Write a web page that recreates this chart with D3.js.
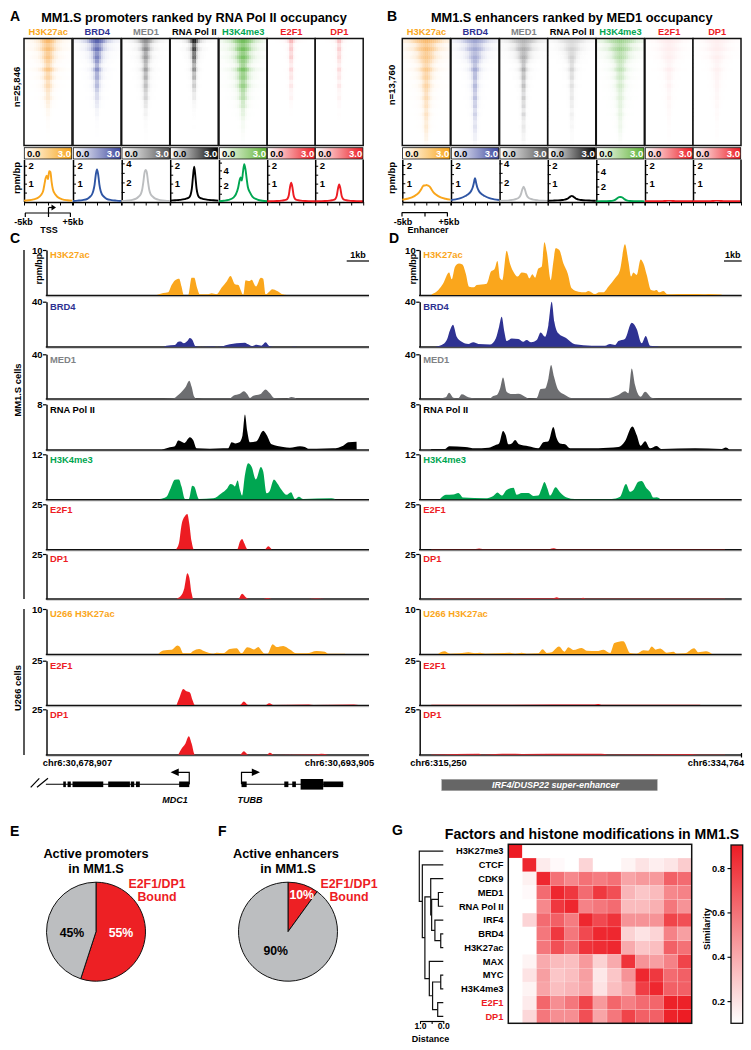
<!DOCTYPE html>
<html><head><meta charset="utf-8">
<script src="https://cdn.jsdelivr.net/npm/d3@7/dist/d3.min.js"></script>
<style>html,body{margin:0;padding:0;background:#fff}svg{display:block}text{font-family:"Liberation Sans",Arial,sans-serif;font-weight:bold}</style>
</head><body><svg id="c" width="751" height="1050"></svg>
<script>
// ---------- factor names and colours
const factors=["H3K27ac","BRD4","MED1","RNA Pol II","H3K4me3","E2F1","DP1"];
const labelColors=["#faa61a","#2e3192","#808285","#000000","#00a651","#ed1c24","#ed1c24"];
const heatColors=["#f7941d","#3a46a0","#4d4d4f","#000000","#4fae32","#ed1c24","#ed1c24"];
const barColors=["#f9a51a","#3f4aa0","#555555","#000000","#5fb336","#ed1c24","#ed1c24"];
const lineColors=["#f9a51a","#2f55a4","#bcbec0","#000000","#00a651","#ed1c24","#ed1c24"];
// ---------- heatmap row summaries (26 rank bins, top to bottom)
const aPeakH3K27ac=[.62,.6,.55,.55,.52,.5,.48,.5,.42,.42,.38,.35,.3,.28,.22,.2,.14,.1,.07,.05,.04,.03,.02,.01,.01,0];
const aWidthH3K27ac=[.62,.7,.55,.5,.45,.42,.4,.42,.36,.38,.32,.3,.3,.26,.26,.22,.2,.18,.15,.12,.12,.1,.1,.08,.08,.05];
const aPeakBRD4=[.8,.75,.72,.7,.68,.68,.62,.6,.55,.5,.48,.42,.36,.3,.22,.2,.14,.1,.07,.05,.04,.03,.02,.02,.01,0];
const aWidthBRD4=[.7,.6,.45,.4,.32,.3,.28,.26,.26,.24,.22,.2,.2,.18,.18,.16,.15,.14,.12,.1,.1,.08,.08,.08,.06,.05];
const aPeakMED1=[.6,.62,.62,.6,.58,.55,.58,.55,.5,.52,.45,.42,.38,.36,.3,.25,.2,.15,.12,.08,.06,.05,.04,.03,.03,.02];
const aWidthMED1=[.55,.42,.34,.3,.28,.26,.24,.22,.22,.2,.2,.18,.18,.16,.15,.14,.12,.12,.1,.1,.1,.08,.08,.08,.06,.06];
const aPeakPol=[.9,.85,.8,.78,.72,.68,.65,.55,.5,.45,.4,.34,.28,.22,.15,.1,.06,.05,.03,.02,.01,.01,.01,0,0,0];
const aWidthPol=[.3,.22,.2,.18,.15,.14,.14,.13,.12,.12,.11,.1,.1,.1,.09,.09,.08,.08,.07,.07,.06,.06,.05,.05,.05,.05];
const aPeakK4=[.75,.75,.72,.7,.72,.68,.68,.7,.66,.62,.6,.58,.52,.48,.4,.34,.28,.22,.16,.12,.09,.07,.05,.04,.03,.02];
const aWidthK4=[.85,.8,.62,.6,.55,.52,.48,.48,.46,.42,.42,.38,.34,.32,.3,.26,.26,.22,.2,.2,.16,.16,.14,.12,.1,.08];
const aPeakE2F1=[.35,.33,.3,.32,.3,.28,.28,.26,.24,.24,.22,.2,.18,.16,.12,.08,.05,.03,.02,.01,.01,0,0,0,0,0];
const aWidthE2F1=[.22,.14,.12,.12,.12,.1,.1,.1,.1,.09,.09,.09,.08,.08,.08,.07,.07,.06,.06,.05,.05,.05,.05,.05,.05,.05];
const aPeakDP1=[.3,.28,.28,.28,.26,.26,.25,.25,.22,.22,.2,.2,.17,.15,.12,.1,.07,.05,.03,.02,.02,.01,.01,0,0,0];
const aWidthDP1=[.2,.14,.12,.12,.11,.1,.1,.1,.1,.09,.09,.09,.08,.08,.08,.07,.07,.06,.06,.05,.05,.05,.05,.05,.05,.05];
const bPeakH3K27ac=[.6,.58,.55,.55,.5,.5,.48,.48,.45,.45,.42,.42,.4,.38,.36,.34,.32,.3,.3,.28,.26,.25,.22,.2,.15,.08];
const bWidthH3K27ac=[1.2,1,.85,.75,.7,.62,.55,.5,.46,.42,.38,.35,.33,.3,.28,.27,.25,.24,.22,.2,.2,.18,.16,.14,.12,.1];
const bPeakBRD4=[.45,.42,.42,.42,.42,.45,.45,.45,.45,.42,.42,.42,.42,.4,.4,.38,.36,.34,.32,.3,.28,.26,.24,.2,.15,.08];
const bWidthBRD4=[1,.85,.7,.6,.5,.42,.35,.3,.26,.22,.2,.2,.18,.18,.16,.16,.14,.14,.13,.12,.12,.11,.1,.1,.09,.08];
const bPeakMED1=[.4,.42,.42,.45,.45,.45,.48,.48,.45,.45,.45,.45,.42,.42,.42,.42,.4,.38,.36,.35,.34,.32,.3,.26,.2,.1];
const bWidthMED1=[1,.8,.62,.5,.4,.32,.26,.22,.2,.18,.16,.14,.13,.12,.11,.11,.1,.1,.1,.09,.09,.08,.08,.08,.07,.06];
const bPeakPol=[.15,.16,.16,.17,.18,.18,.18,.18,.16,.16,.14,.14,.13,.13,.12,.12,.1,.1,.09,.08,.07,.06,.05,.05,.03,.02];
const bWidthPol=[1,.8,.6,.5,.35,.3,.25,.22,.2,.18,.16,.16,.14,.14,.12,.12,.12,.1,.1,.1,.1,.1,.08,.08,.08,.08];
const bPeakK4=[.5,.5,.48,.45,.42,.38,.38,.35,.3,.3,.26,.26,.24,.22,.2,.2,.18,.18,.16,.15,.14,.12,.1,.08,.05,.03];
const bWidthK4=[1.2,1,.85,.75,.65,.55,.5,.45,.42,.42,.38,.36,.34,.32,.3,.28,.26,.24,.24,.22,.2,.18,.16,.14,.12,.1];
const bPeakE2F1=[.08,.08,.07,.07,.07,.06,.06,.07,.06,.06,.05,.06,.05,.05,.05,.04,.04,.04,.03,.03,.03,.02,.02,.02,.01,.01];
const bWidthE2F1=[1,.9,.8,.7,.6,.5,.45,.4,.35,.3,.3,.25,.25,.2,.2,.2,.15,.15,.15,.12,.12,.1,.1,.1,.08,.08];
const bPeakDP1=[.07,.08,.07,.06,.07,.06,.06,.06,.06,.05,.06,.05,.05,.05,.04,.04,.04,.03,.03,.03,.02,.02,.02,.02,.01,.01];
const bWidthDP1=[1,.9,.8,.7,.6,.5,.45,.4,.35,.3,.3,.25,.25,.2,.2,.2,.15,.15,.15,.12,.12,.1,.1,.1,.08,.08];
// lateral falloff of signal from the centre of the window
const falloffAt=[0,.28,.55,.95,1.6,3];
const falloffLevel=[1,.7,.28,.09,.025,0];
// row-to-row streak strength
const streakLevel=[1.1,.85,1.15,.9,1.1,.95,.8,1.15,.9,1.05,.85,1.1,.95,.85,1.1,.9,1.05,.85,1.1,.95,.85,1.05,1,.9,1.05,1];
// ---------- metagene profiles
const profileKb=[-5,-4,-3,-2,-1.5,-1,-.75,-.5,-.25,0,.25,.5,.75,1,1.5,2,3,4,5];
const aProfiles=[
 [.05,.07,.12,.22,.35,.6,.95,1.3,1.45,1.25,1.7,1.65,1.1,.7,.4,.25,.12,.07,.05],
 [.03,.05,.08,.15,.25,.42,.62,.95,1.5,1.8,1.5,.95,.6,.42,.25,.15,.08,.05,.03],
 [.05,.08,.15,.3,.5,.8,1.2,2,3,3.3,3,2,1.2,.8,.5,.3,.15,.08,.05],
 [.05,.07,.09,.13,.17,.25,.38,.7,1.4,1.95,1.4,.7,.38,.25,.17,.13,.09,.07,.05],
 [.05,.1,.2,.5,.9,1.8,2.6,3.1,2.7,3.8,4.8,4.2,3,1.9,1.1,.6,.25,.1,.05],
 [.01,.02,.03,.05,.07,.1,.17,.35,.8,1.05,.8,.35,.17,.1,.07,.05,.03,.02,.01],
 [.01,.02,.03,.05,.07,.1,.17,.33,.72,.95,.72,.33,.17,.1,.07,.05,.03,.02,.01]];
const bProfiles=[
 [.1,.15,.22,.38,.5,.7,.82,.88,.88,.9,.88,.85,.8,.7,.5,.38,.22,.15,.1],
 [.08,.12,.18,.3,.38,.5,.6,.75,1,1.27,1,.75,.6,.5,.38,.3,.18,.12,.08],
 [.05,.08,.12,.2,.28,.4,.55,.85,1.3,1.55,1.3,.85,.55,.4,.28,.2,.12,.08,.05],
 [.04,.05,.06,.08,.1,.14,.18,.23,.28,.31,.28,.23,.18,.14,.1,.08,.06,.05,.04],
 [.02,.03,.04,.07,.12,.25,.38,.5,.58,.6,.58,.5,.38,.25,.12,.07,.04,.03,.02],
 [.01,.01,.01,.015,.02,.025,.03,.04,.05,.06,.05,.04,.03,.025,.02,.015,.01,.01,.01],
 [.01,.01,.01,.015,.02,.025,.03,.04,.05,.06,.05,.04,.03,.025,.02,.015,.01,.01,.01]];
const profileMaxA=[2.35,2.35,4.4,2.35,5.4,2.35,2.35];
const profileTicks=[[.5,1,1.5,2],[.5,1,1.5,2],[1,2,3,4],[.5,1,1.5,2],[1,2,3,4,5],[.5,1,1.5,2],[.5,1,1.5,2]];
const profileLabels=[[1,2],[1,2],[2,4],[1,2],[2,4],[1,2],[1,2]];
// ---------- browser tracks, panel C: [kb from window start, rpm/bp]
const cH3K27ac=[[5.12,0],[5.43,.44],[5.66,.6],[5.82,2.2],[5.97,3.2],[6.17,3.6],[6.28,1.9],[6.39,0],[6.59,0],[6.75,3.85],[6.87,3.85],[7.01,1.5],[7.13,.15],[7.52,.15],[7.68,.37],[7.91,.15],[8.14,1.6],[8.38,3],[8.56,4.2],[8.76,2.4],[8.93,2.2],[9.03,1.1],[9.15,0],[9.26,3.3],[9.43,3.1],[9.54,3.4],[9.74,1.9],[9.97,3.85],[10.08,3.6],[10.19,.15],[10.36,.74],[10.5,1.3],[10.73,.9],[10.98,.15],[11.17,0]];
const cBRD4=[[5.43,0],[5.58,.9],[5.97,1.5],[6.13,4.4],[6.24,4.7],[6.39,3],[6.55,5],[6.67,7.7],[6.79,5.9],[6.92,.6],[7.13,0],[7.76,.3],[7.91,0],[8.14,.3],[8.53,2.1],[8.84,3],[9.23,3.6],[9.38,2.1],[9.54,.6],[9.77,1.8],[10,.9],[10.19,3.9],[10.36,.6],[10.55,0],[11.3,0],[11.48,.25],[11.65,0]];
const cMED1=[[5.43,0],[5.89,.3],[6.13,3.3],[6.36,7.8],[6.48,10.8],[6.64,16.2],[6.75,10.8],[6.87,1.8],[6.98,0],[7.29,.3],[8.53,.3],[8.69,2.7],[9,4.5],[9.18,6.6],[9.34,3.9],[9.46,.6],[9.62,2.7],[9.93,3.9],[10.19,8.4],[10.39,4.8],[10.58,.6],[11.17,0],[11.4,1.5],[11.63,0]];
const cPol=[[5.35,0],[5.66,.35],[5.97,.6],[6.13,1.6],[6.28,1.4],[6.41,1.2],[6.67,2.2],[6.82,1.7],[6.98,.24],[7.6,.18],[8.22,.24],[8.45,.24],[8.61,1.3],[8.79,1.1],[8.97,1.3],[9.12,2.6],[9.23,6.2],[9.34,3.2],[9.46,1.3],[9.77,1.5],[10.08,3.35],[10.24,2.6],[10.47,.95],[11.01,.47],[11.32,.35],[11.79,.6],[12.02,.47],[12.18,.18],[12.56,.18],[13.34,.24],[13.8,.7],[14.04,1.3],[14.42,1.4],[14.43,0]];
const cK4=[[5.27,.1],[5.58,.7],[5.77,2.9],[5.97,5.2],[6.16,5.3],[6.28,3.4],[6.44,.1],[6.62,.1],[6.78,3.6],[6.87,3.4],[7.09,.1],[7.76,.27],[8.14,1.6],[8.38,2.75],[8.56,4.1],[8.69,3.8],[8.76,3.4],[8.89,5],[9,2.5],[9.1,1],[9.23,6.5],[9.38,9.6],[9.54,8.7],[9.74,5.3],[9.97,8.6],[10.08,7.4],[10.24,1.6],[10.36,2],[10.58,5.3],[10.73,4.3],[10.94,2.5],[11.17,1.2],[11.37,1.9],[11.56,.1],[11.74,.7],[11.94,.1],[13.26,.27],[13.42,.1]];
const cE2F1=[[6.02,0],[6.16,3.3],[6.28,13.5],[6.44,18.5],[6.55,19.6],[6.64,14.4],[6.75,4.3],[6.86,0],[8.87,0],[9,4.3],[9.1,5.7],[9.2,3.3],[9.35,0],[10.16,0],[10.31,1.7],[10.47,0]];
const cDP1=[[6.05,0],[6.28,2],[6.41,5.8],[6.55,14.2],[6.64,12],[6.75,3],[6.82,0],[8.92,0],[9.1,2.8],[9.28,.7],[9.43,0],[10.08,0],[10.28,.4],[10.47,0],[12.18,0],[12.56,.3],[12.95,0]];
const cU266H3K27ac=[[5.2,0],[5.43,.8],[5.82,.95],[6.1,1.9],[6.2,1.6],[6.36,.15],[6.67,.15],[6.82,.66],[7.1,1.1],[7.29,.74],[7.57,.2],[7.76,.07],[7.91,.3],[8.22,.15],[8.53,1.1],[8.84,1.26],[9.07,.15],[9.34,1.5],[9.46,1.4],[9.65,1],[9.85,1.55],[10,.74],[10.16,.07],[10.28,.07],[10.52,2.15],[10.7,1.55],[11.01,1.8],[11.32,1],[11.63,.15],[12.1,.15],[12.56,.66],[12.95,.5],[13.1,.07],[13.88,.07]];
const cU266E2F1=[[6.05,0],[6.2,4.7],[6.36,9],[6.51,7.7],[6.67,7],[6.79,2.8],[6.9,0],[9,0],[9.18,2],[9.38,0],[10.2,0],[10.36,.95],[10.55,0],[12.2,.25],[12.4,0],[14.3,.25],[14.5,0]];
const cU266DP1=[[6.13,0],[6.28,3.3],[6.44,5.7],[6.62,10.2],[6.75,6.1],[6.9,0],[9,0],[9.18,1.85],[9.38,0],[10.24,0],[10.39,1.1],[10.58,0],[12.56,.2],[12.79,.5],[13.1,0]];
// ---------- browser tracks, panel D
const dH3K27ac=[[.73,.15],[1.13,1.1],[1.43,2.6],[1.78,5],[1.94,3.5],[2.14,6.3],[2.38,7],[2.59,6.8],[2.79,4.8],[2.99,1.85],[3.29,1.7],[3.45,2.2],[4.06,2.5],[4.32,5.2],[4.53,5.7],[4.71,7.55],[4.87,3.7],[5.01,3.3],[5.27,9.85],[5.47,7],[5.74,4.8],[5.94,4.1],[6.18,5],[6.48,4.8],[6.65,3.7],[6.83,4.6],[6.99,3.85],[7.19,5.9],[7.39,6.3],[7.56,11.7],[7.7,9.6],[7.94,3.3],[8.1,7.4],[8.24,10.4],[8.46,10],[8.71,7],[8.97,4.8],[9.21,1.5],[9.62,.74],[10.02,.6],[10.22,.9],[10.63,.2],[10.87,.6],[11.13,.6],[11.43,1.85],[11.84,3.7],[12.14,5.55],[12.44,11.3],[12.65,7.4],[12.81,4.1],[12.95,5],[13.15,4.45],[13.39,7.9],[13.56,7],[13.76,4.45],[14.02,1.1],[14.22,.96],[14.36,1.1],[14.5,.6],[14.77,.9],[15.01,.15],[15.27,.15],[16.4,.2],[17.2,.15],[17.5,.25],[18.3,.1]];
const dBRD4=[[.99,.3],[1.33,1.5],[1.64,5.9],[1.84,14.8],[2.02,19.5],[2.24,8.9],[2.55,4.4],[2.95,2.4],[3.25,3.9],[3.56,2.4],[4.26,2],[4.61,7.4],[4.81,17.8],[4.97,26.7],[5.13,13.3],[5.27,5],[5.58,7.4],[5.98,6.9],[6.28,4.4],[6.48,5.9],[6.75,3.9],[7.09,5.9],[7.33,12.7],[7.6,8.9],[7.8,19.3],[8,40],[8.16,22.2],[8.4,11.9],[8.91,7.4],[9.41,2.1],[10.42,.9],[11.23,.9],[11.54,2.4],[11.84,1.5],[12.04,5],[12.44,6.9],[12.85,21.3],[13.15,15.7],[13.45,3],[13.7,9.5],[13.96,.9],[14.46,.3]];
const dMED1=[[1.23,.3],[1.58,1.2],[1.78,5.4],[2.04,.9],[2.34,.3],[2.55,3.9],[2.95,1.2],[3.35,.3],[4.26,.3],[4.46,2.4],[4.67,3.3],[4.87,9.3],[5.05,19.2],[5.27,6.3],[5.58,4.2],[5.98,4.5],[6.38,1.8],[6.63,0],[7.09,.6],[7.33,8.7],[7.6,9.3],[7.8,18.3],[7.96,30.3],[8.14,19.8],[8.4,7.8],[8.81,3.3],[9.21,.6],[11.43,.6],[12.04,3.3],[12.44,6.6],[12.65,4.8],[12.85,27.3],[13.05,12.3],[13.39,1.8],[13.66,6.3],[14.06,.9],[14.46,0]];
const dPol=[[.69,.12],[.93,.12],[1.54,.12],[1.78,.6],[2.75,.47],[3.35,.24],[4.16,.35],[4.57,.8],[4.81,1.1],[5.05,3.3],[5.21,2.6],[5.37,.95],[5.58,1.1],[5.78,1.7],[6.02,.95],[6.59,.6],[7.19,.24],[7.49,1.3],[7.8,1.5],[8.1,4],[8.3,2],[8.5,1.1],[8.81,.95],[9.11,.24],[10.22,.24],[11.43,.35],[12.04,.47],[12.44,1.5],[12.89,4.1],[13.15,2.6],[13.39,.7],[13.66,1.5],[13.96,.24],[14.36,.65],[14.63,.12],[16.69,.24],[18.3,.12],[18.55,.4],[18.75,.06]];
const dK4=[[1.23,.1],[1.58,1.2],[2.04,1.3],[2.34,1.7],[2.65,.45],[3.96,.27],[4.46,.9],[4.71,1.8],[4.97,1],[5.27,2.5],[5.68,3.1],[5.88,1.2],[6.18,1.7],[6.59,1.7],[6.89,.9],[7.19,1],[7.39,2.9],[7.56,4.6],[7.74,2.9],[7.9,1],[8.24,3.2],[8.5,1.9],[8.91,.5],[9.41,.1],[11.64,.1],[12.14,.7],[12.5,4.1],[12.75,2],[12.95,2.5],[13.25,4.7],[13.45,4.9],[13.76,2.9],[13.96,2],[14.16,.45],[14.36,.55],[14.57,.1]];
const dE2F1=[[.7,.15],[3.4,.2],[3.6,.5],[3.8,.15],[7.9,.2],[8.1,.55],[8.3,.15],[14,.2],[18.5,.15]];
const dDP1=[[.7,.15],[8.1,.2],[8.3,.75],[8.5,.15],[9.7,.15],[9.9,.6],[10.1,.15],[18.5,.15]];
const dU266H3K27ac=[[1.13,.07],[1.49,.6],[1.84,.07],[2.44,.15],[2.95,.37],[3.35,.15],[3.66,.3],[3.96,.07],[4.77,.15],[5.47,.3],[5.78,.07],[6.18,.3],[6.48,.07],[7.19,.15],[7.45,1.04],[7.7,.22],[8,.37],[8.44,1.64],[8.77,.52],[9.01,1.5],[9.31,.9],[9.82,1.34],[10.12,.75],[10.73,.67],[11.13,.97],[11.54,.22],[11.8,2.46],[12.34,2.84],[12.75,.22],[13.15,.07],[13.56,.82],[13.86,.75],[14.06,1.64],[14.3,.97],[14.57,1.2],[14.97,.3],[15.37,.52],[15.58,.07],[16.08,.15],[16.63,1.27],[16.89,.37],[17.35,.6],[17.7,.07]];
const dU266E2F1=[[.7,.1],[5.6,.2],[10.6,.25],[10.8,.55],[11,.15],[17,.15]];
const dU266DP1=[[.7,.1],[3.6,.55],[3.8,.1],[5.4,.5],[6.2,.4],[9.8,.5],[11,.5],[11.4,.15],[16.4,.45],[16.9,.1],[18.5,.1]];
// ---------- gene models (kb, same axis as panel C)
const mdc1Exons=[[.78,.9],[.98,1.13],[1.21,2.64],[2.87,3.88],[3.92,4.08],[4.16,4.34],[6.17,6.64]];
const tubbExons=[[9.07,9.31],[11.06,11.25],[11.43,11.6],[12.87,13.8]];
const tubbTallExons=[[11.82,12.87]];
// ---------- panels E, F
const promoterShares=[55,45];
const enhancerShares=[10,90];
// ---------- panel G
const simLabels=["H3K27me3","CTCF","CDK9","MED1","RNA Pol II","IRF4","BRD4","H3K27ac","MAX","MYC","H3K4me3","E2F1","DP1"];
const simRow0=[.9,.1,.1,.1,.1,.1,.1,.1,.1,.1,.1,.1,.1];
const simRow1=[.1,.86,.17,.12,.1,.25,.1,.1,.14,.2,.16,.19,.28];
const simRow2=[.1,.15,.86,.6,.52,.6,.56,.6,.42,.46,.46,.66,.62];
const simRow3=[.1,.12,.62,.86,.8,.62,.8,.72,.36,.3,.34,.52,.54];
const simRow4=[.1,.1,.52,.8,.86,.54,.58,.62,.34,.34,.38,.58,.48];
const simRow5=[.1,.25,.62,.66,.56,.86,.74,.82,.48,.48,.48,.76,.72];
const simRow6=[.1,.1,.58,.8,.58,.74,.86,.86,.26,.2,.25,.54,.44];
const simRow7=[.1,.1,.58,.72,.62,.82,.84,.86,.4,.3,.33,.66,.6];
const simRow8=[.1,.14,.4,.34,.33,.46,.26,.4,.82,.48,.44,.54,.76];
const simRow9=[.1,.2,.44,.3,.33,.44,.18,.3,.48,.86,.8,.62,.66];
const simRow10=[.1,.14,.42,.33,.36,.42,.2,.33,.42,.78,.86,.66,.66];
const simRow11=[.1,.17,.64,.5,.58,.76,.46,.64,.55,.62,.64,.88,.88];
const simRow12=[.1,.24,.58,.5,.5,.72,.42,.58,.76,.66,.66,.88,.9];
const simMatrix=[simRow0,simRow1,simRow2,simRow3,simRow4,simRow5,simRow6,simRow7,simRow8,simRow9,simRow10,simRow11,simRow12];
const simTicks=[.2,.4,.6,.8];
const tree={h:1.03,c:[{n:"H3K27me3"},{h:.9,c:[{n:"CTCF"},{h:.79,c:[
  {h:.54,c:[{n:"CDK9"},{h:.5,c:[{h:.21,c:[{n:"MED1"},{n:"RNA Pol II"}]},{h:.36,c:[{n:"IRF4"},{h:.11,c:[{n:"BRD4"},{n:"H3K27ac"}]}]}]}]},
  {h:.6,c:[{n:"MAX"},{h:.46,c:[{h:.11,c:[{n:"MYC"},{n:"H3K4me3"}]},{h:.24,c:[{n:"E2F1"},{n:"DP1"}]}]}]}]}]}]};

// ==================== drawing
const svg=d3.select("#c");
const defs=svg.append("defs");
defs.append("filter").attr("id","blur").attr("x","-5%").attr("y","-5%").attr("width","110%").attr("height","110%")
  .append("feGaussianBlur").attr("stdDeviation","0.6 0.45");
const soft=defs.append("filter").attr("id","soft").append("feGaussianBlur").attr("stdDeviation","0.25");
const root=svg.append("g");
function txt(x,y,s,o={}){
  const t=root.append("text").attr("x",x).attr("y",y).text(s)
    .attr("font-size",o.size||9.5).attr("text-anchor",o.anchor||"middle").attr("fill",o.fill||"#000");
  if(o.rotate) t.attr("transform",`rotate(-90 ${x} ${y})`);
  if(o.italic) t.attr("font-style","italic");
  return t;
}
function hline(x1,x2,y,w=1.5,c="#000"){root.append("line").attr("x1",x1).attr("x2",x2).attr("y1",y).attr("y2",y).attr("stroke",c).attr("stroke-width",w);}
function vline(x,y1,y2,w=1.5,c="#000"){root.append("line").attr("x1",x).attr("x2",x).attr("y1",y1).attr("y2",y2).attr("stroke",c).attr("stroke-width",w);}

// --- panel letters
[["A",10,20.5],["B",387,20.5],["C",10,243],["D",389,243],["E",10,836],["F",218,836],["G",392,835]]
  .forEach(d=>txt(d[1],d[2],d[0],{size:14,anchor:"start"}));

// --- gradients for colour bars
factors.forEach((f,i)=>{
  const g=defs.append("linearGradient").attr("id","g"+i);
  g.append("stop").attr("offset","0").attr("stop-color","#fff");
  g.append("stop").attr("offset","1").attr("stop-color",barColors[i]);
});

const columns=d3.range(24);
const falloff=d3.scaleLinear().domain(falloffAt).range(falloffLevel).clamp(true);
function heatPanels(xs,w,peaks,widths,profiles,pMax,pTicks,pLabels){
  const rowBand=d3.scaleBand().domain(d3.range(26)).range([39,145]);
  factors.forEach((f,i)=>{
    const x0=xs[i];
    const colBand=d3.scaleBand().domain(columns).range([x0,x0+w]);
    const col=d3.scaleLinear().domain([0,1]).range(["#ffffff",heatColors[i]]);
    const clip="cl"+x0.toString().replace(".","_");
    defs.append("clipPath").attr("id",clip).append("rect").attr("x",x0).attr("y",38).attr("width",w).attr("height",107);
    const g=root.append("g").attr("clip-path",`url(#${clip})`).append("g").attr("filter","url(#blur)");
    g.selectAll("g").data(d3.range(26)).join("g").each(function(r){
      d3.select(this).selectAll("rect").data(columns).join("rect")
        .attr("x",c=>colBand(c)).attr("y",rowBand(r)).attr("width",colBand.bandwidth()+.3).attr("height",rowBand.bandwidth()+.3)
        .attr("fill",c=>{
          const pos=Math.abs((c+.5)/12-1);
          return col(Math.min(1,peaks[i][r]*streakLevel[r]*falloff(pos/Math.max(widths[i][r]*streakLevel[r],.02))));
        });
    });
    root.append("rect").attr("x",x0).attr("y",38.5).attr("width",w).attr("height",107).attr("fill","none").attr("stroke","#111").attr("stroke-width",1.5);
    // colour bar
    root.append("rect").attr("x",x0+.3).attr("y",147.7).attr("width",w-.6).attr("height",11.3).attr("fill",`url(#g${i})`).attr("stroke","#111").attr("stroke-width",.8);
    txt(x0+3,156.5,"0.0",{size:9.5,anchor:"start"});
    txt(x0+w-1,156.5,"3.0",{size:9.5,anchor:"end",fill:"#fff"});
    // profile
    const py=d3.scaleLinear().domain([0,pMax[i]]).range([201.5,159.5]);
    const px=d3.scaleLinear().domain([-5,5]).range([x0,x0+w]);
    const yAxis=d3.axisRight(py).tickValues(pTicks[i]).tickSize(3).tickSizeOuter(0)
      .tickFormat(v=>pLabels[i].includes(v)?v:"");
    const ax=root.append("g").attr("transform",`translate(${x0},0)`).call(yAxis);
    ax.select(".domain").attr("stroke-width",1.5);
    ax.selectAll("line").attr("stroke-width",1);
    ax.selectAll("text").attr("font-size",9.5).attr("fill","#000").attr("x",4.5);
    const xAxis=d3.axisBottom(px).tickValues([-5,-2.5,0,2.5,5]).tickSize(3.5).tickSizeOuter(0).tickFormat("");
    const bx=root.append("g").attr("transform","translate(0,202)").call(xAxis);
    bx.select(".domain").attr("stroke-width",1.4);
    bx.selectAll("line").attr("stroke-width",1);
    root.append("path").attr("fill","none").attr("stroke",lineColors[i]).attr("stroke-width",1.9)
      .attr("stroke-linejoin","round").attr("filter","url(#soft)")
      .attr("d",d3.line().x((d,k)=>px(profileKb[k])).y(d=>py(d)).curve(d3.curveMonotoneX)(profiles[i]));
  });
  vline(xs[6]+w,159.5,202,1.5);
}
const xsA=[24,73,121.7,170.2,219,267.2,315.2];
const xsB=[402.3,451,499.6,547.8,596.3,645,693];
txt(194,22,"MM1.S promoters ranked by RNA Pol II occupancy",{size:12.75});
txt(571.7,22,"MM1.S enhancers ranked by MED1 occupancy",{size:12.8});
factors.forEach((f,i)=>{
  txt(xsA[i]+24.2,34.5,f,{size:9.3,fill:labelColors[i]});
  txt(xsB[i]+24.2,34.5,f,{size:9.3,fill:labelColors[i]});
});
heatPanels(xsA,48,[aPeakH3K27ac,aPeakBRD4,aPeakMED1,aPeakPol,aPeakK4,aPeakE2F1,aPeakDP1],
  [aWidthH3K27ac,aWidthBRD4,aWidthMED1,aWidthPol,aWidthK4,aWidthE2F1,aWidthDP1],aProfiles,profileMaxA,profileTicks,profileLabels);
heatPanels(xsB,48,[bPeakH3K27ac,bPeakBRD4,bPeakMED1,bPeakPol,bPeakK4,bPeakE2F1,bPeakDP1],
  [bWidthH3K27ac,bWidthBRD4,bWidthMED1,bWidthPol,bWidthK4,bWidthE2F1,bWidthDP1],bProfiles,[2.3,2.3,4.4,2.3,5.6,2.3,2.3],profileTicks,profileLabels);
txt(20,87,"n=25,846",{size:9.5,rotate:true});
txt(20,178,"rpm/bp",{size:9.5,rotate:true});
txt(395,85,"n=13,760",{size:9.5,rotate:true});
txt(395,178,"rpm/bp",{size:9.5,rotate:true});
// window brackets
hline(25,70.7,213,1.2); vline(25.3,213,217,1.2); vline(70.4,213,217,1.2); vline(48.5,207.5,217,1.2); hline(48.5,52,207.5,1.2);
root.append("path").attr("d",d3.line()([[51.5,204.5],[56,207.5],[51.5,210.5]])+"Z");
txt(23.5,225,"-5kb",{size:9}); txt(73,225,"+5kb",{size:9}); txt(49,232.5,"TSS",{size:9});
hline(401.7,447.7,212.7,1.2); vline(402,212.7,216.5,1.2); vline(447.4,212.7,216.5,1.2); vline(425,212.7,216.5,1.2);
txt(403,225,"-5kb",{size:9}); txt(449,225,"+5kb",{size:9}); txt(428,233,"Enhancer",{size:9});

// --- browser tracks
const trackTops=[250,301.7,354.3,404.3,454.3,504.3,554,609,660.7,709.3];
const trackBases=[295,346.7,398.7,449.7,499.3,549.3,598.7,654,705,754.7];
const trackLabels=["H3K27ac","BRD4","MED1","RNA Pol II","H3K4me3","E2F1","DP1","U266 H3K27ac","E2F1","DP1"];
const trackMax=[10,40,40,8,12,25,25,10,25,25];
const trackColor=["#faa61a","#2e3192","#6d6e71","#000000","#00a651","#ed1c24","#ed1c24","#faa61a","#ed1c24","#ed1c24"];
const labelColor=["#faa61a","#2e3192","#808285","#000000","#00a651","#ed1c24","#ed1c24","#faa61a","#ed1c24","#ed1c24"];
function tracks(left,right,spanKb,series){
  const x=d3.scaleLinear().domain([0,spanKb]).range([left,right]);
  series.forEach((s,i)=>{
    const y=d3.scaleLinear().domain([0,trackMax[i]]).range([trackBases[i],trackTops[i]]);
    hline(left,right,trackBases[i]+1.8,1,"#d4d4d4");
    hline(left-.7,right,trackBases[i]+.4,1.5,"#111");
    root.append("path").attr("fill",trackColor[i]).attr("filter","url(#soft)")
      .attr("d",d3.area().x(d=>x(d[0])).y0(y(0)).y1(d=>y(d[1])).curve(d3.curveMonotoneX)(s));
    const a=root.append("g").attr("transform",`translate(${left},0)`)
      .call(d3.axisLeft(y).tickValues([trackMax[i]]).tickSize(3.5).tickPadding(.5).tickSizeOuter(0));
    a.select(".domain").attr("stroke-width",1.5).attr("stroke","#111");
    a.selectAll("line").attr("stroke-width",1.2);
    a.selectAll("text").attr("font-size",9.5).attr("fill","#000");
    txt(left+3.5,trackTops[i]+8.2,trackLabels[i],{size:9.4,anchor:"start",fill:labelColor[i]});
  });
  return x;
}
const xC=tracks(46.5,369,15,[cH3K27ac,cBRD4,cMED1,cPol,cK4,cE2F1,cDP1,cU266H3K27ac,cU266E2F1,cU266DP1]);
tracks(419.7,741.7,19.514,[dH3K27ac,dBRD4,dMED1,dPol,dK4,dE2F1,dDP1,dU266H3K27ac,dU266E2F1,dU266DP1]);
txt(42,269,"rpm/bp",{size:9,rotate:true});
txt(416,269,"rpm/bp",{size:9,rotate:true});
hline(346.7,369,261,1.2); txt(358,257.7,"1kb",{size:9});
hline(724,741.7,261,1.2); txt(732.7,257.7,"1kb",{size:9});
vline(24,250,599,1.3); vline(24,609,755,1.3);
txt(20.5,390,"MM1.S cells",{size:9.4,rotate:true});
txt(20.5,688,"U266 cells",{size:9.4,rotate:true});
txt(77.5,765.5,"chr6:30,678,907",{size:9.3});
txt(339.5,765.5,"chr6:30,693,905",{size:9.3});
txt(438.5,765.5,"chr6:315,250",{size:9.3});
txt(716,765.5,"chr6:334,764",{size:9.3});
vline(741.5,753,757.5,1.2);

// --- gene models
const gy=784.3;
hline(xC(-.03),xC(6.64),gy,1.1); hline(xC(9.15),xC(13.8),gy,1.1);
const exon=(ex,h)=>ex.forEach(e=>root.append("rect").attr("x",xC(e[0])).attr("width",xC(e[1])-xC(e[0])).attr("y",gy-h/2).attr("height",h).attr("fill","#000"));
exon(mdc1Exons,5.6); exon(tubbExons,5.6); exon(tubbTallExons,10.6);
root.append("path").attr("fill","none").attr("stroke","#000").attr("stroke-width",1.2)
  .attr("d",`M30.7,787.3L39.3,778.3M37,787.3L48,778.3`);
root.append("path").attr("fill","none").attr("stroke","#000").attr("stroke-width",1.2)
  .attr("d",`M${xC(6.64)},${gy}V772.3H${xC(6.05)}M${xC(9.07)},${gy}V772.3H${xC(9.66)}`);
root.append("path").attr("d",`M${xC(5.77)},772.3L${xC(6.15)},768.5V776Z M${xC(9.93)},772.3L${xC(9.55)},768.5V776Z`);
txt(175,803,"MDC1",{size:9,italic:true}); txt(250,803,"TUBB",{size:9,italic:true});
root.append("rect").attr("x",441.7).attr("y",779.3).attr("width",215.6).attr("height",11.4).attr("fill","#666").attr("stroke","#aaa").attr("stroke-width",.5);
txt(555.5,788,"IRF4/DUSP22 super-enhancer",{size:9,italic:true,fill:"#fff"});

// --- pies
function pieChart(cx,cy,r,vals){
  const arcs=d3.pie().sort(null)(vals);
  const arc=d3.arc().innerRadius(0).outerRadius(r);
  root.append("g").attr("transform",`translate(${cx},${cy})`).selectAll("path").data(arcs).join("path")
    .attr("d",arc).attr("fill",(d,i)=>i==0?"#ed2024":"#bcbec0").attr("stroke","#111").attr("stroke-width",1).attr("stroke-linejoin","round");
}
pieChart(96,931.7,49.5,promoterShares);
pieChart(288,931.7,49.5,enhancerShares);
txt(96,858,"Active promoters",{size:12.8}); txt(96,873,"in MM1.S",{size:12.8});
txt(286,858,"Active enhancers",{size:12.8}); txt(288,873,"in MM1.S",{size:12.8});
txt(157,888,"E2F1/DP1",{size:12.4,fill:"#ed1c24"}); txt(157,900.7,"Bound",{size:12.4,fill:"#ed1c24"});
txt(349,888,"E2F1/DP1",{size:12.4,fill:"#ed1c24"}); txt(349,900.7,"Bound",{size:12.4,fill:"#ed1c24"});
txt(72,936.5,"45%",{size:12.3}); txt(121,936.5,"55%",{size:12.3,fill:"#fff"});
txt(301.7,898.5,"10%",{size:12.3,fill:"#fff"}); txt(275.7,955,"90%",{size:12.3});

// --- similarity matrix
txt(592,839,"Factors and histone modifications in MM1.S",{size:14.1});
const mx=d3.scaleBand().domain(d3.range(13)).range([508.3,691.7]);
const my=d3.scaleBand().domain(simLabels).range([844.3,1023.3]);
const simColor=d3.scaleLinear().domain([.1,.9]).range(["#ffffff","#ed1c24"]);
root.append("g").selectAll("g").data(simMatrix).join("g").each(function(row,ri){
  d3.select(this).selectAll("rect").data(row).join("rect")
    .attr("x",(v,c)=>mx(c)).attr("y",my(simLabels[ri])).attr("width",mx.bandwidth()).attr("height",my.bandwidth())
    .attr("fill",v=>simColor(v)).attr("stroke","#fff").attr("stroke-opacity",.25).attr("stroke-width",.5);
});
root.append("rect").attr("x",508.3).attr("y",844.3).attr("width",183.4).attr("height",179).attr("fill","none").attr("stroke","#111").attr("stroke-width",1.5);
simLabels.forEach(l=>txt(503.5,my(l)+my.bandwidth()/2+3.3,l,{size:9.3,anchor:"end",fill:(l=="E2F1"||l=="DP1")?"#ed1c24":"#000"}));
// colour bar
const vg=defs.append("linearGradient").attr("id","sim").attr("x1",0).attr("y1",1).attr("x2",0).attr("y2",0);
vg.append("stop").attr("offset","0").attr("stop-color","#fff");
vg.append("stop").attr("offset","1").attr("stop-color","#ed1c24");
const sy=d3.scaleLinear().domain([.1,.9]).range([1023.3,845.9]);
root.append("rect").attr("x",731).attr("y",845).attr("width",11.7).attr("height",178.3).attr("fill","url(#sim)").attr("stroke","#111").attr("stroke-width",1.3);
const sa=root.append("g").attr("transform","translate(731,0)").call(d3.axisLeft(sy).tickValues(simTicks).tickSize(3.5).tickPadding(2.5).tickFormat(d3.format(".1f")).tickSizeOuter(0));
sa.select(".domain").remove(); sa.selectAll("line").attr("stroke-width",1.1);
sa.selectAll("text").attr("font-size",9.3).attr("fill","#000");
txt(709.5,929,"Similarity",{size:9.3,rotate:true});
// dendrogram
const dx=d3.scaleLinear().domain([1,0]).range([420,443.3]);
const hier=d3.hierarchy(tree,d=>d.c);
hier.eachAfter(n=>{ n.cy=n.children?d3.mean(n.children,k=>k.cy):my(n.data.n)+my.bandwidth()/2; n.cx=dx(n.children?n.data.h:0); });
const dend=root.append("g").attr("fill","none").attr("stroke","#111").attr("stroke-width",1.2);
hier.descendants().filter(n=>n.children).forEach(n=>{
  const [a,b]=n.children;
  dend.append("path").attr("d",`M${a.cx},${a.cy}H${n.cx}V${b.cy}H${b.cx}`);
});
const da=root.append("g").attr("transform","translate(0,1021)").call(d3.axisBottom(dx).tickValues([1,.5,0]).tickSize(3).tickSizeOuter(0).tickFormat(v=>v==.5?"":d3.format(".1f")(v)));
da.select(".domain").attr("stroke-width",1.2); da.selectAll("line").attr("stroke-width",1.1);
da.selectAll("text").attr("font-size",8.6).attr("fill","#000").attr("y",5).attr("dy","0.4em");
txt(430.5,1041.5,"Distance",{size:9});
</script></body></html>
